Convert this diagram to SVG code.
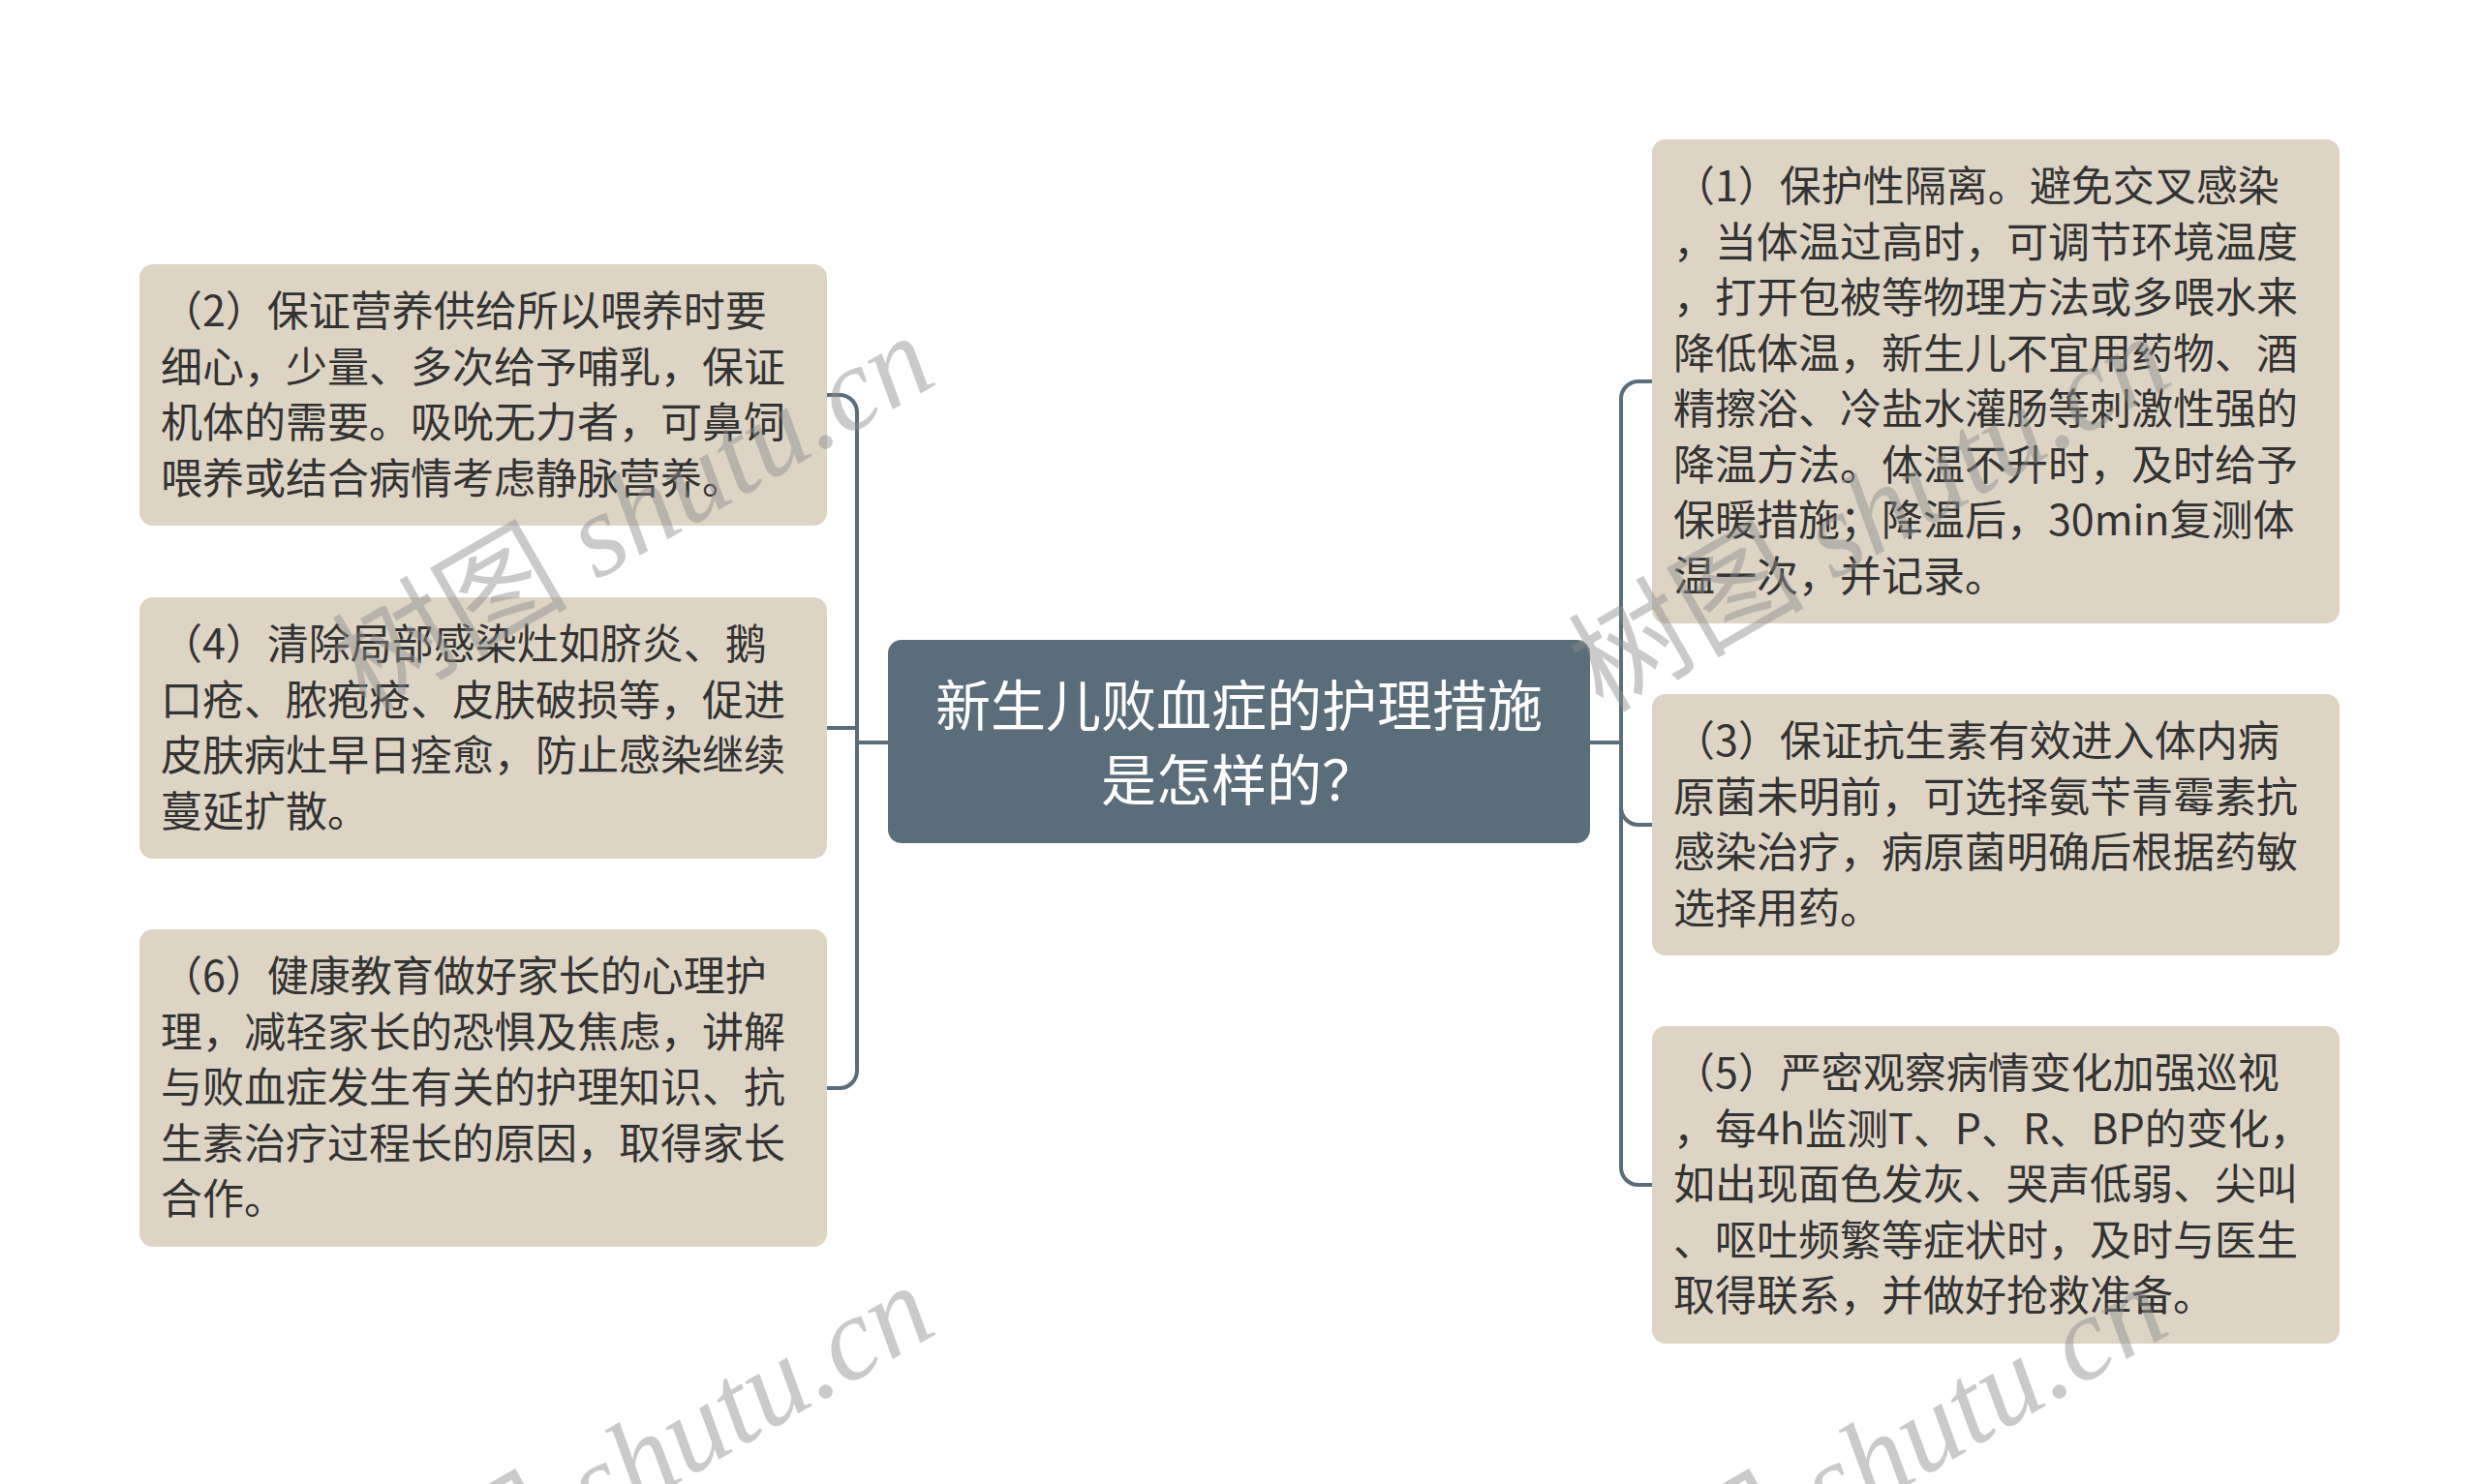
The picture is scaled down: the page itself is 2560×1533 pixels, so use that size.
<svg xmlns="http://www.w3.org/2000/svg" width="2560" height="1533" viewBox="0 0 2560 1533">
<style>
.box{fill:#ded4c4}
.root{fill:#5a6d7a}
.t{font-family:"Noto Sans CJK SC","Noto Sans",sans-serif;font-size:43px;fill:#333333}
.rt{font-family:"Noto Sans CJK SC","Noto Sans",sans-serif;font-size:57px;fill:#ffffff;text-anchor:middle}
.c{fill:none;stroke:#5a6d7a;stroke-width:4}
.wm{font-family:"Liberation Serif","Noto Sans CJK SC",serif;font-size:122px;fill:#8c8c8c;opacity:0.45}
</style>
<rect width="2560" height="1533" fill="#ffffff"/>
<g id="connectors">
<path class="c" d="M917,767 H885"/>
<path class="c" d="M885,767 V426 A18,18 0 0 0 867,408 H854"/>
<path class="c" d="M885,767 V752 H854"/>
<path class="c" d="M885,767 V1106 A18,18 0 0 1 867,1124 H854"/>
<path class="c" d="M1642,767 H1674"/>
<path class="c" d="M1674,767 V412 A18,18 0 0 1 1692,394 H1706"/>
<path class="c" d="M1674,767 V834 A18,18 0 0 0 1692,852 H1706"/>
<path class="c" d="M1674,767 V1206 A18,18 0 0 0 1692,1224 H1706"/>
</g>
<g id="root">
<rect class="root" x="917" y="661" width="725" height="210" rx="14"/>
<text class="rt" x="1279.5" y="750">新生儿败血症的护理措施</text>
<text class="rt" x="1279.5" y="827">是怎样的？</text>
</g>
<g id="n2">
<rect class="box" x="144" y="273" width="710" height="270" rx="14"/>
<text class="t" x="166" y="337">（2）保证营养供给所以喂养时要</text>
<text class="t" x="166" y="394.5">细心，少量、多次给予哺乳，保证</text>
<text class="t" x="166" y="452">机体的需要。吸吮无力者，可鼻饲</text>
<text class="t" x="166" y="509.5">喂养或结合病情考虑静脉营养。</text>
</g>
<g id="n4">
<rect class="box" x="144" y="617" width="710" height="270" rx="14"/>
<text class="t" x="166" y="681">（4）清除局部感染灶如脐炎、鹅</text>
<text class="t" x="166" y="738.5">口疮、脓疱疮、皮肤破损等，促进</text>
<text class="t" x="166" y="796">皮肤病灶早日痊愈，防止感染继续</text>
<text class="t" x="166" y="853.5">蔓延扩散。</text>
</g>
<g id="n6">
<rect class="box" x="144" y="960" width="710" height="328" rx="14"/>
<text class="t" x="166" y="1024">（6）健康教育做好家长的心理护</text>
<text class="t" x="166" y="1081.5">理，减轻家长的恐惧及焦虑，讲解</text>
<text class="t" x="166" y="1139">与败血症发生有关的护理知识、抗</text>
<text class="t" x="166" y="1196.5">生素治疗过程长的原因，取得家长</text>
<text class="t" x="166" y="1254">合作。</text>
</g>
<g id="n1">
<rect class="box" x="1706" y="144" width="710" height="500" rx="14"/>
<text class="t" x="1728" y="208">（1）保护性隔离。避免交叉感染</text>
<text class="t" x="1728" y="265.5">，当体温过高时，可调节环境温度</text>
<text class="t" x="1728" y="323">，打开包被等物理方法或多喂水来</text>
<text class="t" x="1728" y="380.5">降低体温，新生儿不宜用药物、酒</text>
<text class="t" x="1728" y="438">精擦浴、冷盐水灌肠等刺激性强的</text>
<text class="t" x="1728" y="495.5">降温方法。体温不升时，及时给予</text>
<text class="t" x="1728" y="553">保暖措施；降温后，30min复测体</text>
<text class="t" x="1728" y="610.5">温一次，并记录。</text>
</g>
<g id="n3">
<rect class="box" x="1706" y="717" width="710" height="270" rx="14"/>
<text class="t" x="1728" y="781">（3）保证抗生素有效进入体内病</text>
<text class="t" x="1728" y="838.5">原菌未明前，可选择氨苄青霉素抗</text>
<text class="t" x="1728" y="896">感染治疗，病原菌明确后根据药敏</text>
<text class="t" x="1728" y="953.5">选择用药。</text>
</g>
<g id="n5">
<rect class="box" x="1706" y="1060" width="710" height="328" rx="14"/>
<text class="t" x="1728" y="1124">（5）严密观察病情变化加强巡视</text>
<text class="t" x="1728" y="1181.5">，每4h监测T、P、R、BP的变化，</text>
<text class="t" x="1728" y="1239">如出现面色发灰、哭声低弱、尖叫</text>
<text class="t" x="1728" y="1296.5">、呕吐频繁等症状时，及时与医生</text>
<text class="t" x="1728" y="1354">取得联系，并做好抢救准备。</text>
</g>
<g id="watermarks">
<text class="wm" transform="translate(378,737) rotate(-30)">树图 <tspan font-style="italic">shutu.cn</tspan></text>
<text class="wm" transform="translate(1655,737) rotate(-30)">树图 <tspan font-style="italic">shutu.cn</tspan></text>
<text class="wm" transform="translate(378,1718) rotate(-30)">树图 <tspan font-style="italic">shutu.cn</tspan></text>
<text class="wm" transform="translate(1652,1718) rotate(-30)">树图 <tspan font-style="italic">shutu.cn</tspan></text>
</g>
</svg>
